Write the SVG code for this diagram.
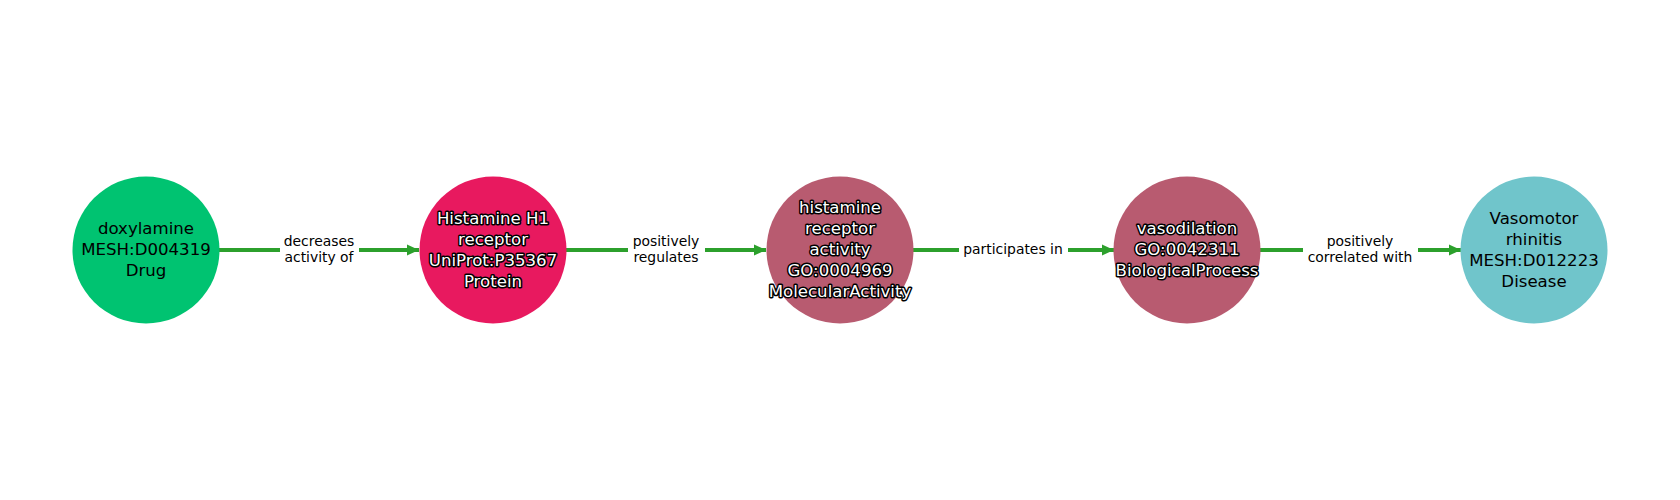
<svg xmlns="http://www.w3.org/2000/svg" width="1680" height="500" viewBox="0 0 1680 500">
<style>
.edge{stroke:#2ca02c;stroke-width:4;fill:none}
.elabel{font-family:"DejaVu Sans",sans-serif;font-size:13.9px;fill:#000;text-anchor:middle}
.nlabel{font-family:"DejaVu Sans",sans-serif;font-size:16.6px;fill:#000;text-anchor:middle}
.nlabel.out{fill:#fff;stroke:#000;stroke-width:3px;paint-order:stroke;stroke-linejoin:round}
</style>
<defs>
<marker id="arr" markerWidth="13" markerHeight="12" refX="12" refY="6" orient="auto" markerUnits="userSpaceOnUse">
<path d="M0,0.5 L12,6 L0,11.5 Z" fill="#2ca02c"/>
</marker>
</defs>
<rect width="1680" height="500" fill="#fff"/>
<g id="connectors">
<line class="edge" x1="219" y1="250" x2="280" y2="250"/>
<line class="edge" x1="359" y1="250" x2="419" y2="250" marker-end="url(#arr)"/>
<text class="elabel" x="319" y="246">decreases</text>
<text class="elabel" x="319" y="262">activity of</text>
<line class="edge" x1="566" y1="250" x2="628" y2="250"/>
<line class="edge" x1="705" y1="250" x2="766" y2="250" marker-end="url(#arr)"/>
<text class="elabel" x="666" y="246">positively</text>
<text class="elabel" x="666" y="262">regulates</text>
<line class="edge" x1="913" y1="250" x2="959" y2="250"/>
<line class="edge" x1="1068" y1="250" x2="1114" y2="250" marker-end="url(#arr)"/>
<text class="elabel" x="1013" y="254">participates in</text>
<line class="edge" x1="1260" y1="250" x2="1303" y2="250"/>
<line class="edge" x1="1418" y1="250" x2="1461" y2="250" marker-end="url(#arr)"/>
<text class="elabel" x="1360" y="246">positively</text>
<text class="elabel" x="1360" y="262">correlated with</text>
</g>
<g id="node-doxylamine">
<circle cx="146" cy="250" r="73.5" fill="#00c371"/>
<text class="nlabel" x="146" y="234">doxylamine</text>
<text class="nlabel" x="146" y="255">MESH:D004319</text>
<text class="nlabel" x="146" y="276">Drug</text>
</g>
<g id="node-h1receptor">
<circle cx="493" cy="250" r="73.5" fill="#e8195f"/>
<text class="nlabel out" x="493" y="224">Histamine H1</text>
<text class="nlabel out" x="493" y="245">receptor</text>
<text class="nlabel out" x="493" y="266">UniProt:P35367</text>
<text class="nlabel out" x="493" y="287">Protein</text>
</g>
<g id="node-receptoractivity">
<circle cx="840" cy="250" r="73.5" fill="#b85b70"/>
<text class="nlabel out" x="840" y="213">histamine</text>
<text class="nlabel out" x="840" y="234">receptor</text>
<text class="nlabel out" x="840" y="255">activity</text>
<text class="nlabel out" x="840" y="276">GO:0004969</text>
<text class="nlabel out" x="840" y="297">MolecularActivity</text>
</g>
<g id="node-vasodilation">
<circle cx="1187" cy="250" r="73.5" fill="#b85b70"/>
<text class="nlabel out" x="1187" y="234">vasodilation</text>
<text class="nlabel out" x="1187" y="255">GO:0042311</text>
<text class="nlabel out" x="1187" y="276">BiologicalProcess</text>
</g>
<g id="node-rhinitis">
<circle cx="1534" cy="250" r="73.5" fill="#70c5cb"/>
<text class="nlabel" x="1534" y="224">Vasomotor</text>
<text class="nlabel" x="1534" y="245">rhinitis</text>
<text class="nlabel" x="1534" y="266">MESH:D012223</text>
<text class="nlabel" x="1534" y="287">Disease</text>
</g>
</svg>
